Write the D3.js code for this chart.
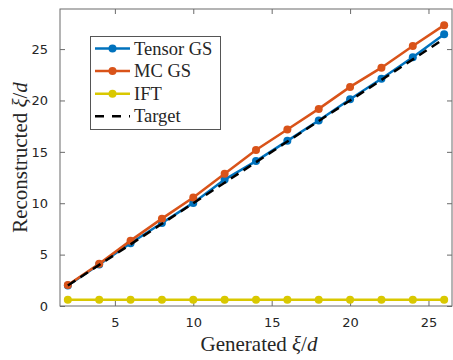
<!DOCTYPE html>
<html>
<head>
<meta charset="utf-8">
<script src="https://cdn.jsdelivr.net/npm/d3@7"></script>
<style>
  body { margin: 0; background: #fff; }
  svg { display: block; }
  .tick text { font-family: "DejaVu Sans", sans-serif; font-size: 13px; fill: #262626; }
  .serif { font-family: "Liberation Serif", "Times New Roman", serif; fill: #262626; }
</style>
</head>
<body>
<div id="chart"></div>
<script>
// data
const generated = [2, 4, 6, 8, 10, 12, 14, 16, 18, 20, 22, 24, 26];
const tensorGS = [2.0, 4.05, 6.1, 8.08, 10.03, 12.3, 14.1, 16.07, 18.05, 20.12, 22.12, 24.2, 26.45];
const mcGS = [2.05, 4.1, 6.36, 8.5, 10.56, 12.86, 15.18, 17.17, 19.18, 21.32, 23.19, 25.3, 27.33];
const ift = [0.62, 0.62, 0.62, 0.62, 0.62, 0.62, 0.62, 0.62, 0.62, 0.62, 0.62, 0.62, 0.62];
const target = generated.slice();
const xTicks = [5, 10, 15, 20, 25];
const yTicks = [0, 5, 10, 15, 20, 25];

const seriesNames = ["Tensor GS", "MC GS", "IFT", "Target"];
const seriesColors = ["#0072BD", "#D95319", "#D9C800", "#000000"];

const width = 453, height = 360;
const margin = { left: 60, right: 1, top: 9, bottom: 54 };

const svg = d3.select("#chart").append("svg")
  .attr("width", width)
  .attr("height", height);

const x = d3.scaleLinear().domain([1.5, 26.5]).range([margin.left, width - margin.right]);
const y = d3.scaleLinear().domain([0, 28.9]).range([height - margin.bottom, margin.top]);

// axes (ticks point inward, box with mirrored ticks)
const axisColor = "#6b6b6b";
const tickLen = 5;

function styleAxis(g) {
  g.select(".domain").remove();
  g.selectAll(".tick line").attr("stroke", axisColor);
}

svg.append("g")
  .attr("transform", `translate(0,${y.range()[0]})`)
  .call(d3.axisBottom(x).tickValues(xTicks).tickSizeInner(-tickLen).tickSizeOuter(0).tickPadding(12))
  .call(styleAxis);

svg.append("g")
  .attr("transform", `translate(0,${y.range()[1]})`)
  .call(d3.axisTop(x).tickValues(xTicks).tickSizeInner(-tickLen).tickSizeOuter(0).tickFormat(""))
  .call(styleAxis);

svg.append("g")
  .attr("transform", `translate(${x.range()[0]},0)`)
  .call(d3.axisLeft(y).tickValues(yTicks).tickSizeInner(-tickLen).tickSizeOuter(0).tickPadding(12))
  .call(styleAxis);

svg.append("g")
  .attr("transform", `translate(${x.range()[1]},0)`)
  .call(d3.axisRight(y).tickValues(yTicks).tickSizeInner(-tickLen).tickSizeOuter(0).tickFormat(""))
  .call(styleAxis);

svg.append("rect")
  .attr("x", x.range()[0])
  .attr("y", y.range()[1])
  .attr("width", x.range()[1] - x.range()[0])
  .attr("height", y.range()[0] - y.range()[1])
  .attr("fill", "none")
  .attr("stroke", axisColor)
  .attr("stroke-width", 1);

// series
const line = d3.line()
  .x((d, i) => x(generated[i]))
  .y(d => y(d));

const plot = svg.append("g");

[tensorGS, mcGS, ift].forEach((vals, k) => {
  plot.append("path")
    .datum(vals)
    .attr("fill", "none")
    .attr("stroke", seriesColors[k])
    .attr("stroke-width", 2.5)
    .attr("d", line);
  plot.selectAll(null)
    .data(vals)
    .enter().append("circle")
    .attr("cx", (d, i) => x(generated[i]))
    .attr("cy", d => y(d))
    .attr("r", 4)
    .attr("fill", seriesColors[k]);
});

plot.append("path")
  .datum(target)
  .attr("fill", "none")
  .attr("stroke", "#000")
  .attr("stroke-width", 2.5)
  .attr("stroke-dasharray", "9,6")
  .attr("d", line);

// axis labels
const xl = svg.append("text")
  .attr("class", "serif")
  .attr("x", (x.range()[0] + x.range()[1]) / 2 + 3)
  .attr("y", 351)
  .attr("text-anchor", "middle")
  .style("font-size", "21px");
xl.append("tspan").text("Generated ");
xl.append("tspan").style("font-style", "italic").text("ξ");
xl.append("tspan").text("/");
xl.append("tspan").style("font-style", "italic").text("d");

const yl = svg.append("text")
  .attr("class", "serif")
  .attr("transform", `translate(27,${(y.range()[0] + y.range()[1]) / 2}) rotate(-90)`)
  .attr("text-anchor", "middle")
  .style("font-size", "21px");
yl.append("tspan").text("Reconstructed ");
yl.append("tspan").style("font-style", "italic").text("ξ");
yl.append("tspan").text("/");
yl.append("tspan").style("font-style", "italic").text("d");

// legend
const legend = svg.append("g");
legend.append("rect")
  .attr("x", 90.5).attr("y", 36.5)
  .attr("width", 130).attr("height", 93)
  .attr("fill", "#fff")
  .attr("stroke", "#555")
  .attr("stroke-width", 1);

seriesNames.forEach((name, k) => {
  const ly = 48.5 + k * 22.6;
  legend.append("line")
    .attr("x1", 95).attr("x2", 130)
    .attr("y1", ly).attr("y2", ly)
    .attr("stroke", seriesColors[k])
    .attr("stroke-width", 2.5)
    .attr("stroke-dasharray", k === 3 ? "9,8" : null);
  if (k < 3) {
    legend.append("circle")
      .attr("cx", 112.5).attr("cy", ly).attr("r", 4)
      .attr("fill", seriesColors[k]);
  }
  legend.append("text")
    .attr("class", "serif")
    .attr("x", 134)
    .attr("y", ly + 6)
    .style("font-size", "18.5px")
    .text(name);
});
</script>
</body>
</html>
